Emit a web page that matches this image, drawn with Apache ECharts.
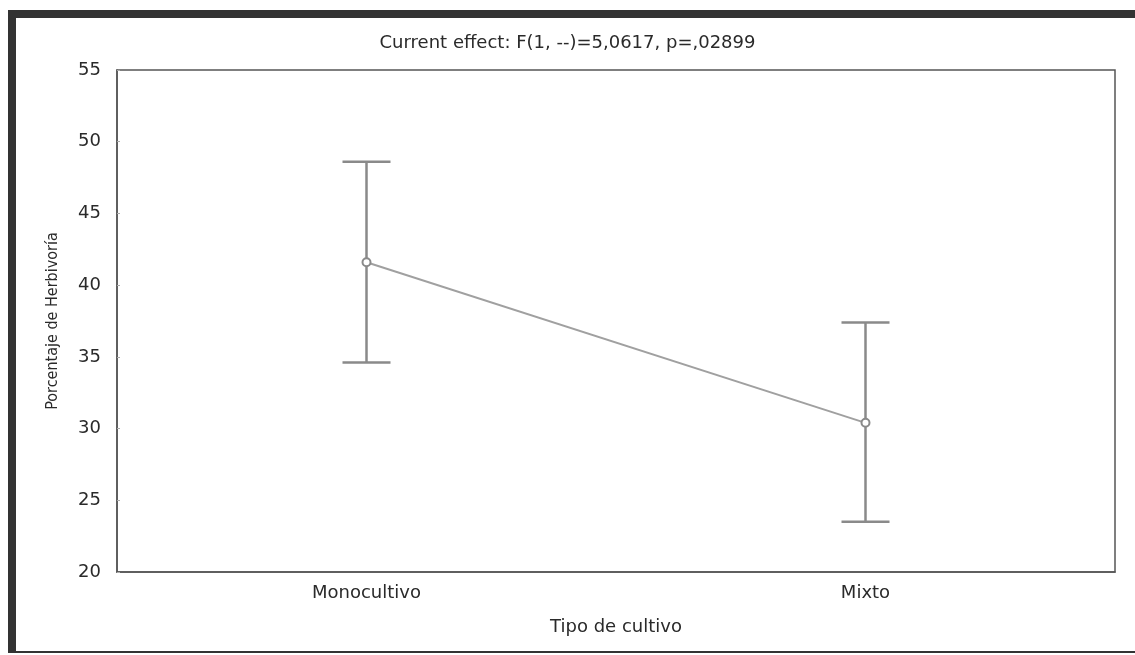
<!DOCTYPE html>
<html>
<head>
<meta charset="utf-8">
<script src="https://cdn.jsdelivr.net/npm/echarts@6/dist/echarts.min.js"></script>
<style>
  html, body { margin: 0; padding: 0; background: #fff; }
  #main { position: absolute; left: 0; top: 0; width: 1135px; height: 655px; }
  #frame {
    position: absolute; left: 8px; top: 10px; width: 1127px; height: 643px;
    border-left: 8px solid #333; border-top: 8px solid #333; border-bottom: 2px solid #333;
    box-sizing: border-box; pointer-events: none;
  }
</style>
</head>
<body>
<div id="main"></div>
<div id="frame"></div>
<script>
var categories = ['Monocultivo', 'Mixto'];
var means = [41.6, 30.4];
var upper = [48.6, 37.4];
var lower = [34.6, 23.5];
var yTicks = [20, 25, 30, 35, 40, 45, 50, 55];

var barData = [];
for (var i = 0; i < categories.length; i++) {
    barData.push([i, lower[i], upper[i]]);
}

var FONT = 'DejaVu Sans, Arial';

// barras de error
function renderErrorBar(params, api) {
    var lo = api.coord([api.value(0), api.value(1)]);
    var hi = api.coord([api.value(0), api.value(2)]);
    var half = 24;
    var style = { stroke: '#8a8a8a', lineWidth: 2.5 };
    return {
        type: 'group',
        children: [
            { type: 'line', shape: { x1: lo[0], y1: lo[1], x2: hi[0], y2: hi[1] }, style: style },
            { type: 'line', shape: { x1: hi[0] - half, y1: hi[1], x2: hi[0] + half, y2: hi[1] }, style: style },
            { type: 'line', shape: { x1: lo[0] - half, y1: lo[1], x2: lo[0] + half, y2: lo[1] }, style: style }
        ]
    };
}

var myChart = echarts.init(document.getElementById('main'));
var option = {
    backgroundColor: '#fff',
    animation: false,
    title: {
        text: 'Current effect: F(1, --)=5,0617, p=,02899',
        left: 'center',
        top: 29,
        textStyle: { fontFamily: FONT, fontSize: 18, fontWeight: 'normal', color: '#2a2a2a' }
    },
    grid: {
        left: 117, right: 20, top: 70, bottom: 83,
        show: true, borderColor: '#555', borderWidth: 1.5
    },
    xAxis: {
        type: 'category',
        data: categories,
        boundaryGap: true,
        name: 'Tipo de cultivo',
        nameLocation: 'middle',
        nameGap: 46,
        nameTextStyle: { fontFamily: FONT, fontSize: 18, color: '#2a2a2a' },
        axisLine: { lineStyle: { color: '#555', width: 1.5 } },
        axisTick: { show: false },
        axisLabel: { margin: 12, fontFamily: FONT, fontSize: 18, color: '#2a2a2a' }
    },
    yAxis: {
        type: 'value',
        min: yTicks[0],
        max: yTicks[yTicks.length - 1],
        interval: 5,
        name: 'Porcentaje de Herbivoría',
        nameLocation: 'middle',
        nameGap: 56,
        nameTextStyle: { fontFamily: 'DejaVu Sans Condensed, Liberation Sans Narrow, Arial', fontSize: 16, color: '#2a2a2a' },
        axisLine: { show: true, lineStyle: { color: '#555', width: 1.5 } },
        axisTick: { show: true, inside: true, length: 3, lineStyle: { color: '#aaa' } },
        splitLine: { show: false },
        axisLabel: { margin: 16, fontFamily: FONT, fontSize: 18, color: '#2a2a2a' }
    },
    series: [
        {
            type: 'custom',
            renderItem: renderErrorBar,
            data: barData,
            encode: { x: 0, y: [1, 2] },
            z: 1
        },
        {
            type: 'line',
            data: means,
            symbol: 'emptyCircle',
            symbolSize: 8,
            lineStyle: { color: '#a0a0a0', width: 2 },
            itemStyle: { color: '#8a8a8a', borderWidth: 1.5 },
            z: 2
        }
    ]
};
myChart.setOption(option);
</script>
</body>
</html>
